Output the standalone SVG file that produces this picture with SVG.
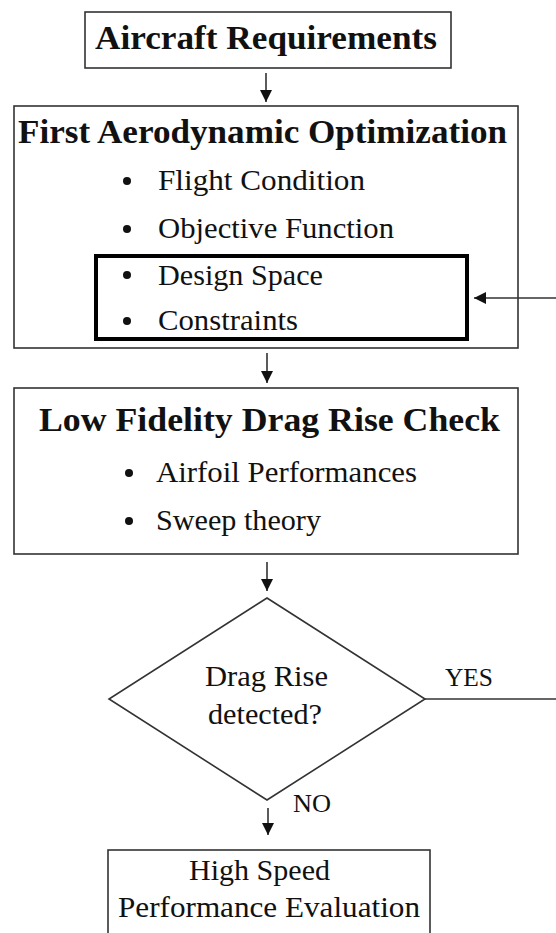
<svg xmlns="http://www.w3.org/2000/svg" width="556" height="933" viewBox="0 0 556 933">
<style>
  .title { font-weight: bold; font-size: 33px; }
  .item { font-size: 30px; }
  .lbl { font-size: 25px; }
  .box { fill: none; stroke: #333; stroke-width: 1.6; }
  .thick { fill: none; stroke: #000; stroke-width: 4; }
  .conn { fill: none; stroke: #333; stroke-width: 1.6; }
  .dot { fill: #111; }
</style>
<defs>
  <marker id="arr" markerUnits="userSpaceOnUse" markerWidth="14" markerHeight="14" refX="12" refY="6" orient="auto">
    <path d="M0,0 L12,6 L0,12 z" fill="#111"/>
  </marker>
</defs>
<rect width="556" height="933" fill="#fff"/>
<g font-family="Liberation Serif, Tinos, Times New Roman, serif" fill="#111">

<g id="n-requirements">
  <rect class="box" x="85" y="12" width="366" height="56"/>
  <text class="title" x="95" y="49" textLength="342" lengthAdjust="spacingAndGlyphs">Aircraft Requirements</text>
</g>

<g id="n-first-opt">
  <rect class="box" x="14" y="106" width="504" height="242"/>
  <text class="title" x="18" y="143" textLength="489" lengthAdjust="spacingAndGlyphs">First Aerodynamic Optimization</text>
  <circle class="dot" cx="127" cy="181" r="4"/>
  <text class="item" x="158" y="190" textLength="207" lengthAdjust="spacingAndGlyphs">Flight Condition</text>
  <circle class="dot" cx="127" cy="229" r="4"/>
  <text class="item" x="158" y="238" textLength="236" lengthAdjust="spacingAndGlyphs">Objective Function</text>
</g>

<g id="n-design-space">
  <rect class="thick" x="96" y="256" width="371" height="83"/>
  <circle class="dot" cx="127" cy="275" r="4"/>
  <text class="item" x="158" y="285" textLength="165" lengthAdjust="spacingAndGlyphs">Design Space</text>
  <circle class="dot" cx="127" cy="321" r="4"/>
  <text class="item" x="158" y="330" textLength="140" lengthAdjust="spacingAndGlyphs">Constraints</text>
</g>

<g id="n-drag-check">
  <rect class="box" x="14" y="388" width="504" height="166"/>
  <text class="title" x="39" y="431" textLength="461" lengthAdjust="spacingAndGlyphs">Low Fidelity Drag Rise Check</text>
  <circle class="dot" cx="129" cy="473" r="4"/>
  <text class="item" x="156" y="482" textLength="261" lengthAdjust="spacingAndGlyphs">Airfoil Performances</text>
  <circle class="dot" cx="129" cy="521" r="4"/>
  <text class="item" x="156" y="530" textLength="165" lengthAdjust="spacingAndGlyphs">Sweep theory</text>
</g>

<g id="n-decision">
  <polygon class="box" points="267,598 425,699 267,800 109,699"/>
  <text class="item" x="205" y="686" textLength="123" lengthAdjust="spacingAndGlyphs">Drag Rise</text>
  <text class="item" x="208" y="724" textLength="114" lengthAdjust="spacingAndGlyphs">detected?</text>
</g>

<g id="n-high-speed">
  <rect class="box" x="108" y="850" width="322" height="100"/>
  <text class="item" x="189" y="880" textLength="141" lengthAdjust="spacingAndGlyphs">High Speed</text>
  <text class="item" x="118" y="917" textLength="302" lengthAdjust="spacingAndGlyphs">Performance Evaluation</text>
</g>

<g id="connectors">
  <line class="conn" x1="266" y1="73" x2="266" y2="102" marker-end="url(#arr)"/>
  <line class="conn" x1="267" y1="353" x2="267" y2="383" marker-end="url(#arr)"/>
  <line class="conn" x1="267" y1="562" x2="267" y2="591" marker-end="url(#arr)"/>
  <line class="conn" x1="268" y1="808" x2="268" y2="835" marker-end="url(#arr)"/>
  <line class="conn" x1="425" y1="699" x2="556" y2="699"/>
  <line class="conn" x1="556" y1="298" x2="474" y2="298" marker-end="url(#arr)"/>
  <text class="lbl" x="445" y="686" textLength="48" lengthAdjust="spacingAndGlyphs">YES</text>
  <text class="lbl" x="293" y="812" textLength="38" lengthAdjust="spacingAndGlyphs">NO</text>
</g>
</g>
</svg>
